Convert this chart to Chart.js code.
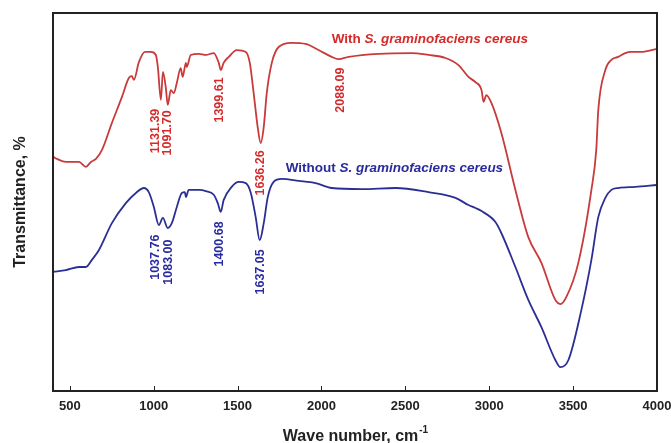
<!DOCTYPE html>
<html lang="en">
<head>
    <meta charset="UTF-8">
    <title>FTIR spectra</title>
    <style>
        * { margin: 0; padding: 0; box-sizing: border-box; }
        body { background: #fff; }
        .wrap { width: 671px; height: 443px; }
    </style>
    <script src="https://cdn.jsdelivr.net/npm/chart.js"></script>
</head>
<body>
    <div class="wrap"><canvas id="ftirChart" width="671" height="443"></canvas></div>
    <script>
        // spectra (wavenumber, cm-1 / relative transmittance)
        const withWave = [400, 424, 477, 555, 596, 626, 656, 692, 751, 811, 852, 870, 882, 912, 948, 983, 1013, 1025, 1043, 1055, 1072, 1084, 1102, 1120, 1138, 1161, 1173, 1192, 1197, 1221, 1269, 1311, 1358, 1388, 1400, 1417, 1448, 1495, 1549, 1573, 1596, 1620, 1638, 1656, 1674, 1704, 1745, 1823, 1906, 1983, 2061, 2102, 2162, 2340, 2537, 2638, 2739, 2817, 2876, 2918, 2954, 2966, 2983, 3013, 3072, 3156, 3233, 3311, 3394, 3424, 3460, 3531, 3609, 3638, 3650, 3692, 3728, 3769, 3811, 3846, 3906, 4000];
        const withTrans = [62.0, 61.4, 60.6, 60.6, 59.3, 60.6, 61.4, 63.8, 70.9, 77.8, 82.8, 83.3, 82.3, 87.0, 89.7, 89.7, 88.9, 85.7, 77.0, 84.4, 80.4, 75.7, 79.6, 78.8, 81.5, 85.4, 83.1, 86.8, 85.7, 88.9, 89.2, 88.9, 89.4, 86.8, 84.9, 86.8, 88.4, 90.2, 89.7, 86.8, 78.8, 69.8, 65.6, 69.8, 78.8, 86.8, 91.0, 92.1, 91.8, 90.2, 88.4, 87.8, 88.4, 89.2, 89.4, 88.9, 88.1, 86.2, 83.1, 81.7, 79.6, 76.5, 78.3, 76.2, 68.3, 53.2, 40.7, 33.9, 24.1, 23.0, 24.9, 33.9, 53.2, 63.8, 74.3, 84.9, 87.6, 88.4, 89.4, 89.7, 89.7, 90.5];

        const withoutWave = [400, 477, 555, 596, 632, 674, 751, 834, 894, 942, 971, 1001, 1031, 1055, 1084, 1108, 1138, 1168, 1186, 1192, 1209, 1269, 1311, 1358, 1382, 1400, 1417, 1465, 1507, 1549, 1579, 1608, 1632, 1656, 1680, 1715, 1763, 1864, 1965, 2061, 2239, 2442, 2638, 2799, 2876, 2918, 2954, 3037, 3072, 3156, 3233, 3311, 3394, 3424, 3472, 3549, 3609, 3650, 3692, 3728, 3769, 3870, 4000];
        const withoutTrans = [31.5, 32.0, 32.8, 32.8, 34.7, 37.3, 44.4, 49.7, 52.4, 53.7, 52.6, 48.7, 43.9, 45.8, 43.1, 44.4, 48.7, 52.4, 52.6, 51.3, 53.2, 53.2, 52.9, 51.9, 49.7, 47.4, 50.5, 54.0, 55.3, 55.0, 52.4, 46.0, 39.9, 44.4, 51.3, 55.3, 56.1, 55.6, 55.0, 53.7, 53.4, 53.7, 52.6, 51.1, 49.2, 48.4, 47.6, 44.7, 41.8, 32.8, 24.1, 16.9, 8.2, 6.3, 8.2, 21.4, 34.7, 46.0, 51.1, 53.2, 53.7, 54.0, 54.5];

        const xTicks = [500, 1000, 1500, 2000, 2500, 3000, 3500, 4000];

        // peak labels: text, wavenumber, label centre (transmittance units)
        const withPeakText = ['1131.39', '1091.70', '1399.61', '1636.26', '2088.09'];
        const withPeakWave = [1013, 1084, 1394, 1638, 2114];
        const withPeakPos = [68.8, 68.3, 77.0, 57.7, 79.6];
        const withoutPeakText = ['1037.76', '1083.00', '1400.68', '1637.05'];
        const withoutPeakWave = [1013, 1090, 1394, 1638];
        const withoutPeakPos = [35.4, 34.1, 38.9, 31.5];

        const RED_LINE = '#c93a3a', RED_TEXT = '#d42a2a';
        const BLUE_LINE = '#2b2f93', BLUE_TEXT = '#2a2aa0';
        const FONT = '"Liberation Sans", Arial, sans-serif';

        const toPoints = (xs, ys) => xs.map((x, i) => ({ x: x, y: ys[i] }));

        const decorations = {
            id: 'decorations',
            afterDatasetsDraw(chart) {
                const ctx = chart.ctx, xs = chart.scales.x, ys = chart.scales.y, a = chart.chartArea;
                ctx.save();
                // frame + inward ticks
                ctx.strokeStyle = '#222';
                ctx.lineWidth = 2;
                ctx.strokeRect(a.left, a.top, a.right - a.left, a.bottom - a.top);
                ctx.lineWidth = 1;
                xTicks.forEach(t => {
                    const px = Math.round(xs.getPixelForValue(t)) + 0.5;
                    ctx.beginPath();
                    ctx.moveTo(px, a.bottom);
                    ctx.lineTo(px, a.bottom - 5);
                    ctx.stroke();
                });

                // rotated peak labels
                ctx.font = 'bold 12.5px ' + FONT;
                ctx.textAlign = 'center';
                ctx.textBaseline = 'middle';
                const peaks = (texts, waves, pos, color) => {
                    ctx.fillStyle = color;
                    texts.forEach((t, i) => {
                        ctx.save();
                        ctx.translate(xs.getPixelForValue(waves[i]), ys.getPixelForValue(pos[i]));
                        ctx.rotate(-Math.PI / 2);
                        ctx.fillText(t, 0, 0);
                        ctx.restore();
                    });
                };
                peaks(withPeakText, withPeakWave, withPeakPos, RED_TEXT);
                peaks(withoutPeakText, withoutPeakWave, withoutPeakPos, BLUE_TEXT);

                // series names
                const seriesName = (lead, wave, pos, color) => {
                    let px = xs.getPixelForValue(wave);
                    const py = ys.getPixelForValue(pos);
                    ctx.fillStyle = color;
                    ctx.textAlign = 'left';
                    ctx.font = 'bold 13.5px ' + FONT;
                    ctx.fillText(lead, px, py);
                    px += ctx.measureText(lead).width;
                    ctx.font = 'italic bold 13.5px ' + FONT;
                    ctx.fillText('S. graminofaciens cereus', px, py);
                };
                seriesName('With ', 2061, 93.1, RED_TEXT);
                seriesName('Without ', 1787, 59.0, BLUE_TEXT);

                // axis titles
                ctx.fillStyle = '#222';
                ctx.font = 'bold 16px ' + FONT;
                ctx.textAlign = 'center';
                ctx.save();
                ctx.translate(21, (a.top + a.bottom) / 2);
                ctx.rotate(-Math.PI / 2);
                ctx.fillText('Transmittance, %', 0, 0);
                ctx.restore();

                const main = 'Wave number, cm';
                const mw = ctx.measureText(main).width;
                ctx.font = 'bold 10px ' + FONT;
                const sw = ctx.measureText('-1').width;
                const cx = (a.left + a.right) / 2;
                const startX = cx - (mw + sw) / 2;
                ctx.textAlign = 'left';
                ctx.font = 'bold 16px ' + FONT;
                ctx.fillText(main, startX, 437);
                ctx.font = 'bold 10px ' + FONT;
                ctx.fillText('-1', startX + mw + 1, 430);
                ctx.restore();
            }
        };

        new Chart(document.getElementById('ftirChart'), {
            type: 'line',
            data: {
                datasets: [
                    { label: 'With S. graminofaciens cereus', data: toPoints(withWave, withTrans), borderColor: RED_LINE, borderWidth: 1.8 },
                    { label: 'Without S. graminofaciens cereus', data: toPoints(withoutWave, withoutTrans), borderColor: BLUE_LINE, borderWidth: 1.8 }
                ]
            },
            options: {
                responsive: false,
                animation: false,
                devicePixelRatio: 1,
                layout: { padding: { left: 0, top: 13, right: 14, bottom: 0 } },
                elements: { point: { radius: 0 }, line: { cubicInterpolationMode: 'monotone', fill: false } },
                plugins: { legend: { display: false }, tooltip: { enabled: false } },
                scales: {
                    x: {
                        type: 'linear',
                        min: 400,
                        max: 4000,
                        grid: { display: false, drawTicks: false },
                        border: { display: false },
                        afterBuildTicks: s => { s.ticks = xTicks.map(v => ({ value: v })); },
                        afterFit: s => { s.height = 52; s.paddingLeft = 0; s.paddingRight = 0; },
                        ticks: {
                            padding: 8, color: '#222', maxRotation: 0,
                            font: { family: FONT, size: 13, weight: 'bold' },
                            callback: v => String(v)
                        }
                    },
                    y: {
                        min: 0,
                        max: 100,
                        grid: { display: false, drawTicks: false },
                        border: { display: false },
                        ticks: { display: false },
                        afterFit: s => { s.width = 53; s.paddingTop = 0; s.paddingBottom = 0; }
                    }
                }
            },
            plugins: [decorations]
        });
    </script>
</body>
</html>
